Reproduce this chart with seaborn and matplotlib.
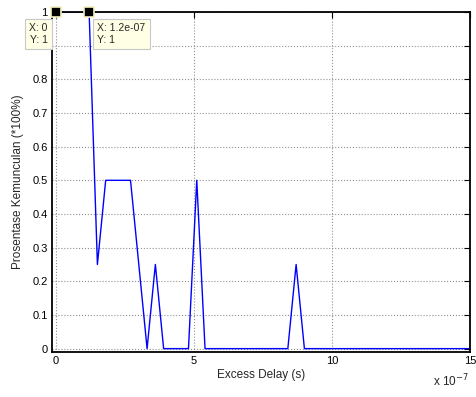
import numpy as np
import pandas as pd
import matplotlib
matplotlib.use("Agg")
import matplotlib.pyplot as plt
import seaborn as sns

sns.set_style("white")
plt.rcParams["font.family"] = ["Liberation Sans", "DejaVu Sans"]

# excess delay (s) and occurrence fraction, breakpoints of the profile
delay_s = [0.0, 1.2e-7, 1.5e-7, 1.8e-7, 2.7e-7, 3.3e-7, 3.6e-7, 3.9e-7,
           4.8e-7, 5.1e-7, 5.4e-7, 8.4e-7, 8.7e-7, 9.0e-7, 15.0e-7]
prob = [1, 1, 0.25, 0.5, 0.5, 0, 0.25, 0, 0, 0.5, 0, 0, 0.25, 0, 0]

tips_x = [0.0, 1.2e-7]
tips_y = [1, 1]
tips_text = ["X: 0\nY: 1", "X: 1.2e-07\nY: 1"]

yticks = [0, 0.1, 0.2, 0.3, 0.4, 0.5, 0.6, 0.7, 0.8, 0.9, 1]
xticks = [0, 5, 10, 15]

df = pd.DataFrame({"delay": np.array(delay_s) * 1e7, "prob": prob})

fig = plt.figure(figsize=(4.76, 3.97), dpi=100)
ax = fig.add_axes([52 / 476, 45 / 397, 418 / 476, 340 / 397])

sns.lineplot(data=df, x="delay", y="prob", ax=ax, color="#0000ff",
             linewidth=1.0, estimator=None, sort=False)

ax.set_xlim(-0.145, 15)
ax.set_ylim(-0.01, 1.0)
ax.set_xticks(xticks)
ax.set_yticks(yticks)
ax.set_yticklabels([f"{v:g}" for v in yticks])
ax.tick_params(direction="in", length=4, width=0.8, labelsize=8,
               top=True, right=True, colors="black", pad=3)
ax.grid(True, linestyle=":", color="#909090", linewidth=0.8)
for s in ax.spines.values():
    s.set_color("black")
    s.set_linewidth(1.3)

ax.set_xlabel("Excess Delay (s)", fontsize=8.5, labelpad=2)
ax.set_ylabel("Prosentase Kemunculan (*100%)", fontsize=8.5, labelpad=6)
fig.text(469 / 476, 1 - 381 / 397, r"x 10$^{-7}$", fontsize=8.5,
         ha="right", va="center")

# data tips
for tx, ty in zip(tips_x, tips_y):
    ax.plot(tx * 1e7, ty, marker="s", markersize=7, color="black",
            markeredgecolor="#f5f0c0", markeredgewidth=1.2, clip_on=False,
            zorder=5)
box = dict(boxstyle="square,pad=0.4", facecolor="#ffffe6",
           edgecolor="#c8c8c8", linewidth=0.8)
ax.annotate(tips_text[0], xy=(tips_x[0] * 1e7, tips_y[0]), xytext=(-6, -8),
            textcoords="offset points", fontsize=7.5, va="top", ha="right",
            bbox=box, linespacing=1.25, zorder=6)
ax.annotate(tips_text[1], xy=(tips_x[1] * 1e7, tips_y[1]), xytext=(6, -8),
            textcoords="offset points", fontsize=7.5, va="top", ha="left",
            bbox=box, linespacing=1.25, zorder=6)

fig.savefig("out.png", dpi=100)
